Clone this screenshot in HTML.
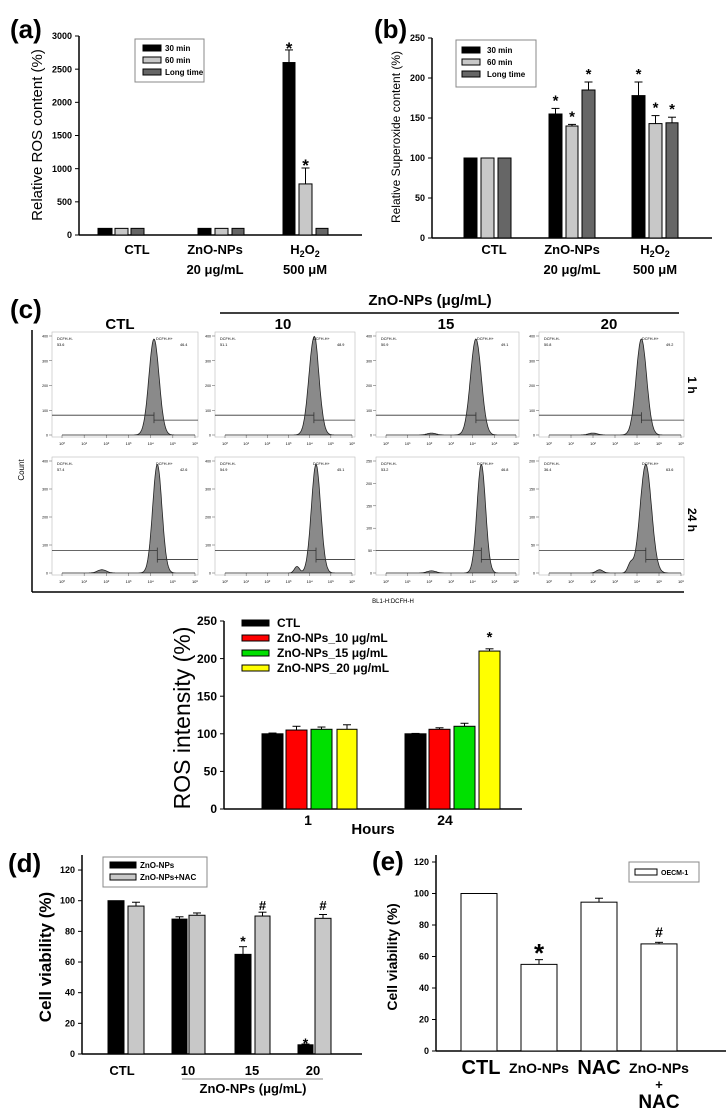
<!DOCTYPE html>
<html><head><meta charset="utf-8"><style>
html,body{margin:0;padding:0;background:#fff;}
svg{display:block;font-family:"Liberation Sans",Arial,sans-serif;}
</style></head><body>
<svg id="s" width="728" height="1115" viewBox="0 0 728 1115" xmlns="http://www.w3.org/2000/svg"></svg>
<script>
var o=[];
function T(x,y,t,s,a,w,ex){o.push('<text x="'+x+'" y="'+y+'" font-size="'+s+'" text-anchor="'+(a||'start')+'" font-weight="'+(w||'normal')+'" '+(ex||'')+'>'+t+'</text>');}
function L(x1,y1,x2,y2,c,w){o.push('<line x1="'+x1+'" y1="'+y1+'" x2="'+x2+'" y2="'+y2+'" stroke="'+(c||'#000')+'" stroke-width="'+(w||1)+'"/>');}
function R(x,y,w,h,f,s,sw){o.push('<rect x="'+x+'" y="'+y+'" width="'+w+'" height="'+h+'" fill="'+f+'" stroke="'+(s||'#000')+'" stroke-width="'+(sw||1)+'"/>');}
function bar(x1,x2,z,yt,f){R(x1,yt,x2-x1,z-yt,f);}
function err(cx,ye,yb){L(cx,ye,cx,yb);L(cx-4,ye,cx+4,ye);}
function yaxis(ax,top,zero,right,max,step,fs,fmt){
 L(ax,top,ax,zero,'#000',1.5);L(ax,zero,right,zero,'#000',1.5);
 for(var v=0;v<=max;v+=step){var y=zero-(zero-top)*v/max;L(ax-4,y,ax,y);T(ax-7,y+fs*0.35,v,fs,'end','bold');}
}
// ---------- (a)
T(10,38,'(a)',26,'start','bold');
yaxis(79,36,235,362,3000,500,9);
T(0,0,'Relative ROS content (%)',15,'middle','normal','transform="translate(42,135) rotate(-90)"');
var sa=199/3000;function ya(v){return 235-v*sa;}
var cl=['#000','#c8c8c8','#666'];
[[98,112],[115,128],[131,144]].forEach(function(b,i){bar(b[0],b[1],235,ya(100),cl[i]);});
[[198,211],[215,228],[232,244]].forEach(function(b,i){bar(b[0],b[1],235,ya(100),cl[i]);});
bar(283,295,235,ya(2600),cl[0]);err(289,ya(2790),ya(2600));T(289,54,'*',17,'middle','bold');
bar(299,312,235,ya(770),cl[1]);err(305.5,ya(1010),ya(770));T(305.5,171,'*',17,'middle','bold');
bar(316,328,235,ya(100),cl[2]);
R(135,39,69,43,'#fff','#888',1);
[['30 min',0],['60 min',1],['Long time',2]].forEach(function(l,i){R(143,45+i*12,18,6,cl[i]);T(165,51+i*12,l[0],8,'start','bold');});
T(137,254,'CTL',13,'middle','bold');T(215,254,'ZnO-NPs',13,'middle','bold');T(215,274,'20 μg/mL',13,'middle','bold');
o.push('<text x="305" y="254" font-size="13" font-weight="bold" text-anchor="middle">H<tspan font-size="9" dy="3">2</tspan><tspan dy="-3">O</tspan><tspan font-size="9" dy="3">2</tspan></text>');
T(305,274,'500 μM',13,'middle','bold');
// ---------- (b)
T(374,38,'(b)',26,'start','bold');
yaxis(432,38,238,712,250,50,9);
T(0,0,'Relative Superoxide content (%)',12,'middle','normal','transform="translate(400,137) rotate(-90)"');
function yb(v){return 238-v*0.8;}
[[464,477],[481,494],[498,511]].forEach(function(b,i){bar(b[0],b[1],238,yb(100),cl[i]);});
var bz=[[549,562,155,162],[566,578,140,142],[582,595,185,195],[632,645,178,195],[649,662,143,153],[666,678,144,151]];
bz.forEach(function(b,i){bar(b[0],b[1],238,yb(b[2]),cl[i%3]);var c=(b[0]+b[1])/2;err(c,yb(b[3]),yb(b[2]));T(c,yb(b[3])-3,'*',15,'middle','bold');});
R(456,40,80,47,'#fff','#888',1);
[['30 min',0],['60 min',1],['Long time',2]].forEach(function(l,i){R(462,47+i*12,18,6,cl[i]);T(487,53+i*12,l[0],8,'start','bold');});
T(494,254,'CTL',13,'middle','bold');T(572,254,'ZnO-NPs',13,'middle','bold');T(572,274,'20 μg/mL',13,'middle','bold');
o.push('<text x="655" y="254" font-size="13" font-weight="bold" text-anchor="middle">H<tspan font-size="9" dy="3">2</tspan><tspan dy="-3">O</tspan><tspan font-size="9" dy="3">2</tspan></text>');
T(655,274,'500 μM',13,'middle','bold');
// ---------- (c) flow
T(10,318,'(c)',26,'start','bold');
T(120,329,'CTL',15,'middle','bold');
T(430,305,'ZnO-NPs (μg/mL)',15,'middle','bold');
L(220,313,679,313,'#000',1.5);
T(283,329,'10',15,'middle','bold');T(446,329,'15',15,'middle','bold');T(609,329,'20',15,'middle','bold');
L(32,330,32,592,'#000',1.5);L(32,592,684,592,'#000',1.5);
T(0,0,'Count',8,'middle','normal','transform="translate(24,470) rotate(-90)"');
T(0,0,'1 h',12,'middle','bold','transform="translate(688,385) rotate(90)"');
T(0,0,'24 h',12,'middle','bold','transform="translate(688,520) rotate(90)"');
T(393,603,'BL1-H:DCFH-H',6,'middle','normal');
function hist(x,y,w,h,mu,sig,bumps,gh,gl,v1,v2,ticks){
 R(x,y,w,h,'#fff','#bbb',0.6);
 var px0=x+10,px1=x+w-3,base=y+h-2,top=y+4;
 function X(lg){return px0+(px1-px0)*lg/6;}
 for(var i=0;i<ticks.length;i++){var yy=base-(base-top)*i/(ticks.length-1);L(x-3,yy,x,yy,'#555',0.5);T(x-4,yy+1.5,ticks[i],3.5,'end');}
 for(var k=0;k<=6;k++){L(X(k),base,X(k),base+3,'#555',0.5);T(X(k),y+h+8,'10'+'⁰¹²³⁴⁵⁶'[k],4,'middle');}
 var d='M'+X(0)+','+base;
 for(var lg=0;lg<=6;lg+=0.03){var v=Math.exp(-Math.pow(lg-mu,2)/(2*sig*sig));bumps.forEach(function(b){v+=b[2]*Math.exp(-Math.pow(lg-b[0],2)/(2*b[1]*b[1]));});d+=' L'+X(lg).toFixed(1)+','+(base-v*(base-top)*0.97).toFixed(1);}
 d+=' L'+X(6)+','+base+' Z';
 o.push('<path d="'+d+'" fill="#8a8a8a" stroke="#222" stroke-width="0.8"/>');
 var gx=X(mu),yh=base-gh*(base-top),yl=base-gl*(base-top);
 L(x,yh,gx,yh,'#333',0.8);L(gx,yh-3,gx,yl+3,'#333',0.8);L(gx,yl,x+w,yl,'#333',0.8);
 T(x+5,y+8,'DCFH-H-',3.8);T(x+5,y+14,v1,3.8);T(x+w-42,y+8,'DCFH-H+',3.8);T(x+w-18,y+14,v2,3.8);
}
var t4=['0','100','200','300','400'];
hist(52,332,146,105,4.15,0.23,[],0.2,0.15,'53.6','46.4',t4);
hist(215,332,140,105,4.2,0.24,[[4.3,0.08,0.05]],0.2,0.15,'51.1','48.9',t4);
hist(376,332,143,105,4.15,0.25,[[2.1,0.2,0.02]],0.2,0.15,'50.9','49.1',t4);
hist(539,332,145,105,4.2,0.24,[[2.0,0.2,0.02]],0.2,0.15,'50.8','49.2',t4);
hist(52,457,146,118,4.3,0.21,[[1.8,0.2,0.03]],0.2,0.12,'57.4','42.6',t4);
hist(215,457,140,118,4.3,0.22,[[3.4,0.12,0.06]],0.2,0.12,'54.9','45.1',t4);
hist(376,457,143,118,4.4,0.2,[[2.1,0.2,0.02]],0.2,0.12,'53.2','46.8',['0','50','100','150','200','250']);
hist(539,457,145,118,4.4,0.26,[[2.3,0.15,0.03],[3.7,0.12,0.08]],0.2,0.12,'36.4','63.6',['0','50','100','150','200']);
// ---------- (c) bar chart
yaxis(224,621,809,522,250,50,12);
T(0,0,'ROS intensity (%)',23,'middle','normal','transform="translate(190,718) rotate(-90)"');
function yc(v){return 809-v*0.752;}
var cc=['#000','#ff0000','#00e000','#ffff00'];
var g1=[[262,283,100,101],[286,307,105,110],[311,332,106,109],[337,357,106,112]];
var g2=[[405,426,100,100.5],[429,450,106,108],[454,475,110,114],[479,500,210,213]];
g1.concat(g2).forEach(function(b,i){bar(b[0],b[1],809,yc(b[2]),cc[i%4]);err((b[0]+b[1])/2,yc(b[3]),yc(b[2]));});
T(489.5,642,'*',15,'middle','bold');
['CTL','ZnO-NPs_10 μg/mL','ZnO-NPs_15 μg/mL','ZnO-NPS_20 μg/mL'].forEach(function(l,i){R(242,620+i*15,27,6,cc[i]);T(277,627+i*15,l,12,'start','bold');});
T(308,825,'1',14,'middle','bold');T(445,825,'24',14,'middle','bold');T(373,834,'Hours',15,'middle','bold');
// ---------- (d)
T(8,872,'(d)',26,'start','bold');
L(82,855,82,1054,'#000',1.5);L(82,1054,362,1054,'#000',1.5);
for(var v=0;v<=120;v+=20){var yy=1054-v*1.533;L(78,yy,82,yy);T(75,yy+3,v,9,'end','bold');}
T(0,0,'Cell viability (%)',17,'middle','bold','transform="translate(51,957) rotate(-90)"');
function yd(v){return 1054-v*1.533;}
var dd=[[108,124,100,100,0],[128,144,96.5,99,1],[172,187,88,89.5,0],[189,205,90.5,92,1],[235,251,65,70,0],[255,270,90,92.5,1],[298,313,6,6.5,0],[315,331,88.5,91,1]];
dd.forEach(function(b){bar(b[0],b[1],1054,yd(b[2]),b[4]?'#c8c8c8':'#000');if(b[3]>b[2])err((b[0]+b[1])/2,yd(b[3]),yd(b[2]));});
T(243,946,'*',14,'middle','bold');T(262.5,910,'#',13,'middle','bold');T(305.5,1048,'*',14,'middle','bold');T(323,910,'#',13,'middle','bold');
R(103,857,104,30,'#fff','#888',1);
R(110,862,26,6,'#000');T(140,868,'ZnO-NPs',8,'start','bold');
R(110,874,26,6,'#c8c8c8');T(140,880,'ZnO-NPs+NAC',8,'start','bold');
T(122,1075,'CTL',13,'middle','bold');T(188,1075,'10',13,'middle','bold');T(252,1075,'15',13,'middle','bold');T(313,1075,'20',13,'middle','bold');
L(182,1079,323,1079,'#888',1);
T(253,1093,'ZnO-NPs (μg/mL)',13,'middle','bold');
// ---------- (e)
T(372,870,'(e)',26,'start','bold');
L(436,855,436,1051,'#000',1.5);L(436,1051,726,1051,'#000',1.5);
for(var v=0;v<=120;v+=20){var yy=1051-v*1.575;L(432,yy,436,yy);T(429,yy+3,v,9,'end','bold');}
T(0,0,'Cell viability (%)',14,'middle','bold','transform="translate(397,957) rotate(-90)"');
function ye(v){return 1051-v*1.575;}
var ee=[[461,497,100,100],[521,557,55,58],[581,617,94.5,97],[641,677,68,69]];
ee.forEach(function(b){bar(b[0],b[1],1051,ye(b[2]),'#fff');if(b[3]>b[2])err((b[0]+b[1])/2,ye(b[3]),ye(b[2]));});
T(539,962,'*',26,'middle','bold');T(659,937,'#',14,'middle','bold');
R(629,862,70,20,'#fff','#888',1);R(635,869,22,6,'#fff');T(661,875,'OECM-1',7,'start','bold');
T(481,1074,'CTL',20,'middle','bold');T(539,1073,'ZnO-NPs',14,'middle','bold');T(599,1074,'NAC',20,'middle','bold');
T(659,1073,'ZnO-NPs',14,'middle','bold');T(659,1089,'+',13,'middle','bold');T(659,1108,'NAC',19,'middle','bold');
document.getElementById('s').innerHTML=o.join('');
</script>
</body></html>
